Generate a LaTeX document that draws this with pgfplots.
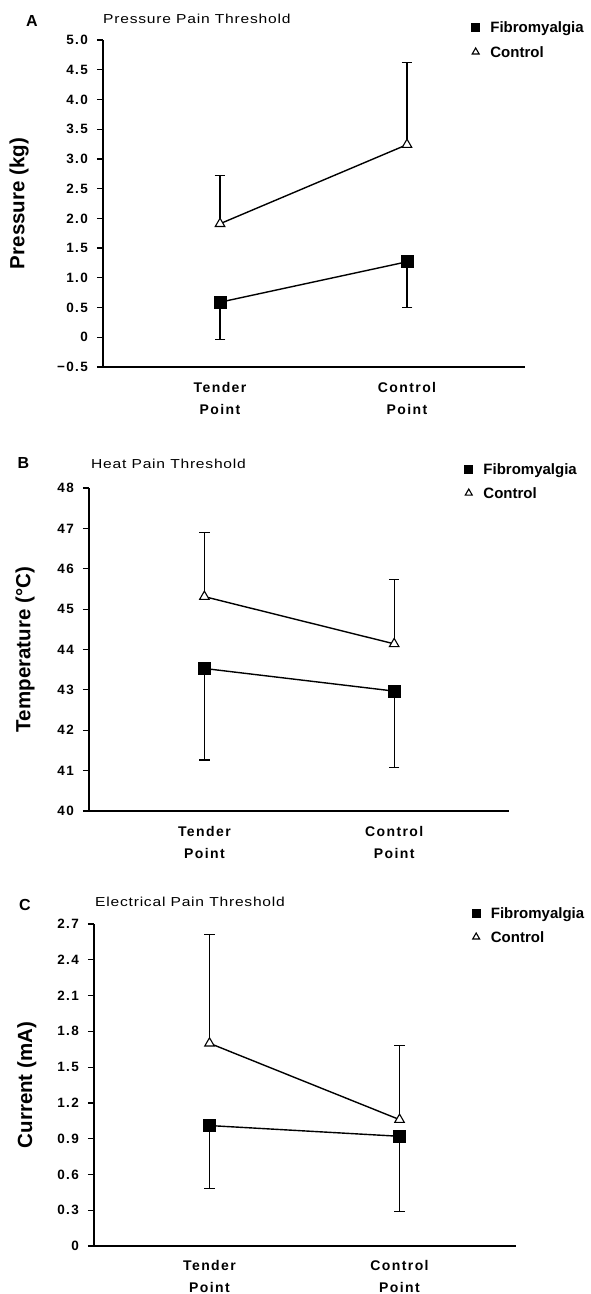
\documentclass[border=0pt]{standalone}
\usepackage{fontspec}
\setmainfont{Liberation Sans}
\newfontfamily\tickf{Liberation Sans}[LetterSpace=10]
\newfontfamily\titf{Liberation Sans}[FakeStretch=1.2, LetterSpace=6]
\usepackage{pgfplots}
\pgfplotsset{compat=1.18}
\pgfplotsset{
  panel/.style={
    scale only axis, clip=false,
    axis lines*=left,
    axis line style={line width=1.5pt},
    xtick={0,1},
    xticklabels={Tender\\Point, Control\\Point},
    xticklabel style={align=center, inner sep=0pt, yshift=-9pt,
      font=\fontsize{14}{22}\selectfont\tickf\bfseries},
    x tick style={draw=none},
    tick align=outside,
    major tick length=6pt,
    y tick style={line width=1.2pt, black},
    yticklabel style={inner sep=0pt, xshift=-9pt,
      font=\fontsize{13.5}{16}\selectfont\tickf\bfseries},
    ylabel style={font=\fontsize{20.5}{24}\selectfont\bfseries, anchor=center},
    title style={anchor=west, inner sep=0pt, font=\fontsize{13}{15}\selectfont\titf},
    legend style={draw=none, fill=none, inner sep=0pt, outer sep=0pt,
      row sep=11pt, column sep=0pt,
      nodes={inner sep=0pt, text height=11pt, text depth=3pt},
      font=\fontsize{15}{18}\selectfont\bfseries, anchor=north west},
    legend cell align=left,
    legend image code/.code={\draw[##1, mark size=4pt, line width=0.9pt] plot coordinates {(4pt,1.4pt)}; \path (0pt,0pt) (18pt,0pt);},
  },
  fm/.style={black, line width=1.4pt, mark=square*, mark size=6pt,
    mark options={solid, fill=black, draw=black, line width=0.8pt},
    error bars/.cd, y dir=minus, y explicit,
    error bar style={line width=1.3pt, black},
    error mark options={mark size=5.3pt, line width=1.3pt, rotate=90, black}},
  ct/.style={black, line width=1.4pt, mark=triangle*, mark size=5.5pt,
    mark options={solid, fill=white, draw=black, line width=1.1pt},
    error bars/.cd, y dir=plus, y explicit,
    error bar style={line width=1.3pt, black},
    error mark options={mark size=5.3pt, line width=1.3pt, rotate=90, black}},
}
\begin{document}
\begin{tikzpicture}
\useasboundingbox (0,0) rectangle (591pt,-1294pt);
\node[font=\fontsize{16}{18}\selectfont\bfseries] at (32pt,-21pt) {A};
\node[font=\fontsize{16}{18}\selectfont\bfseries] at (23.5pt,-462.5pt) {B};
\node[font=\fontsize{16}{18}\selectfont\bfseries] at (25pt,-905pt) {C};

% Panel A
\begin{axis}[panel, at={(103pt,-367pt)}, anchor=south west,
  width=422pt, height=327pt,
  xmin=-0.626, xmax=1.631, ymin=-0.5, ymax=5.0,
  ytick={-0.5,0,0.5,1,1.5,2,2.5,3,3.5,4,4.5,5},
  yticklabels={−0.5,0,0.5,1.0,1.5,2.0,2.5,3.0,3.5,4.0,4.5,5.0},
  ylabel={Pressure (kg)},
  ylabel style={at={(axis description cs:-0.199,0.5)}},
  title={Pressure Pain Threshold},
  title style={at={(axis description cs:0,1)}, yshift=15pt},
  legend style={at={(axis description cs:0.872,1.057)}},
]
\addplot[fm] coordinates {(0,0.59) +- (0,0.63) (1,1.27) +- (0,0.77)};
\addlegendentry{Fibromyalgia}
\addplot[ct] coordinates {(0,1.91) +- (0,0.81) (1,3.24) +- (0,1.38)};
\addlegendentry{Control}
\end{axis}

% Panel B
\begin{axis}[panel, at={(89pt,-811pt)}, anchor=south west,
  width=420pt, height=323pt,
  xmin=-0.608, xmax=1.605, ymin=40, ymax=48,
  ytick={40,41,42,43,44,45,46,47,48},
  yticklabels={40,41,42,43,44,45,46,47,48},
  ylabel={Temperature (°C)},
  ylabel style={at={(axis description cs:-0.152,0.5)}},
  title={Heat Pain Threshold},
  title style={at={(axis description cs:0,1)}, yshift=18pt, xshift=2pt},
  legend style={at={(axis description cs:0.893,1.076)}, row sep=10pt},
]
\addplot[fm] coordinates {(0,43.53) +- (0,2.27) (1,42.97) +- (0,1.90)};
\addlegendentry{Fibromyalgia}
\addplot[ct] coordinates {(0,45.31) +- (0,1.59) (1,44.14) +- (0,1.59)};
\addlegendentry{Control}
\end{axis}

% Panel C
\begin{axis}[panel, at={(94pt,-1246pt)}, anchor=south west,
  width=422pt, height=322pt,
  xmin=-0.608, xmax=1.613, ymin=0, ymax=2.7,
  ytick={0,0.3,0.6,0.9,1.2,1.5,1.8,2.1,2.4,2.7},
  yticklabels={0,0.3,0.6,0.9,1.2,1.5,1.8,2.1,2.4,2.7},
  ylabel={Current (mA)},
  ylabel style={at={(axis description cs:-0.159,0.5)}},
  title={Electrical Pain Threshold},
  title style={at={(axis description cs:0,1)}, yshift=16pt, xshift=1pt},
  legend style={at={(axis description cs:0.8945,1.0516)}, row sep=10pt},
  xticklabel style={yshift=1pt},
]
\addplot[fm] coordinates {(0,1.01) +- (0,0.53) (1,0.92) +- (0,0.63)};
\addlegendentry{Fibromyalgia}
\addplot[ct] coordinates {(0,1.70) +- (0,0.91) (1,1.06) +- (0,0.62)};
\addlegendentry{Control}
\end{axis}
\end{tikzpicture}
\end{document}
